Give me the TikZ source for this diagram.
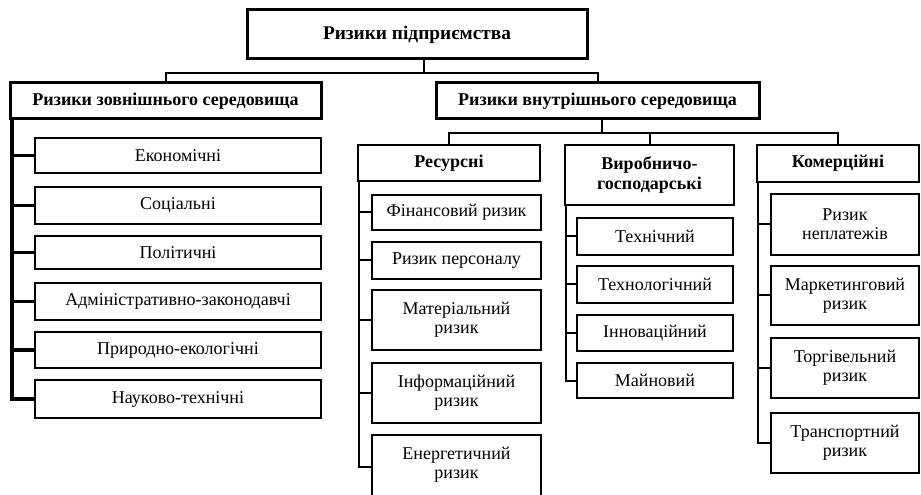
\documentclass[tikz,border=0pt]{standalone}
\usepackage{fontspec}
\setmainfont{Liberation Serif}
\usetikzlibrary{fit}
\tikzset{
  box/.style={draw, line width=1.1pt, inner sep=0pt},
  hbox/.style={box, line width=2.25pt},
  lbl/.style={align=center, inner sep=0pt, font=\fontsize{13.5}{14.5}\selectfont},
  blbl/.style={lbl, font=\fontsize{13.5}{14.5}\selectfont\bfseries},
  tlbl/.style={lbl, font=\fontsize{14.5}{15}\selectfont\bfseries},
  conn/.style={line width=1.5pt},
  tconn/.style={line width=2.6pt},
}
\newcommand\mybox[8]{\node[#6, fit={(#2,#3)(#4,#5)}] (#1) {};
  \node[#7] (#1-t) at (#1.center) {#8};}
\begin{document}
\begin{tikzpicture}[x=0.75pt,y=-0.75pt]
\useasboundingbox (0,0) rectangle (921,495);
% top levels
\mybox{top}{247}{10}{587}{59}{hbox}{tlbl}{Ризики підприємства}
\mybox{ext}{10}{83}{321}{119}{hbox}{blbl}{Ризики зовнішнього середовища}
\mybox{int}{436}{83}{759}{119}{hbox}{blbl}{Ризики внутрішнього середовища}
% external children
\mybox{e1}{35}{138}{321}{173}{box}{lbl}{Економічні}
\mybox{e2}{35}{187}{321}{224}{box}{lbl}{Соціальні}
\mybox{e3}{35}{236}{321}{269}{box}{lbl}{Політичні}
\mybox{e4}{35}{283}{321}{320}{box}{lbl}{Адміністративно-законодавчі}
\mybox{e5}{35}{332}{321}{368}{box}{lbl}{Природно-екологічні}
\mybox{e6}{35}{380}{321}{418}{box}{lbl}{Науково-технічні}
% internal groups
\mybox{r}{358}{145}{540}{181}{box}{blbl}{Ресурсні}
\mybox{v}{565}{145}{734}{205}{box}{blbl}{Виробничо-\\господарські}
\mybox{k}{757}{145}{919}{182}{box}{blbl}{Комерційні}
% resource children
\mybox{r1}{372}{195}{541}{230}{box}{lbl}{Фінансовий ризик}
\mybox{r2}{372}{242}{541}{279}{box}{lbl}{Ризик персоналу}
\mybox{r3}{372}{290}{541}{350}{box}{lbl}{Матеріальний\\ризик}
\mybox{r4}{372}{363}{541}{423}{box}{lbl}{Інформаційний\\ризик}
\node[box, fit={(372,435)(541,500)}] (r5) {};
\node[lbl] (r5-t) at (456.5,465) {Енергетичний\\ризик};
% production children
\mybox{v1}{577}{218}{733}{255}{box}{lbl}{Технічний}
\mybox{v2}{577}{266}{733}{303}{box}{lbl}{Технологічний}
\mybox{v3}{577}{315}{733}{351}{box}{lbl}{Інноваційний}
\mybox{v4}{577}{363}{733}{398}{box}{lbl}{Майновий}
% commercial children
\mybox{k1}{771}{194}{919}{255}{box}{lbl}{Ризик\\неплатежів}
\mybox{k2}{771}{266}{919}{325}{box}{lbl}{Маркетинговий\\ризик}
\mybox{k3}{771}{338}{919}{398}{box}{lbl}{Торгівельний\\ризик}
\mybox{k4}{771}{413}{919}{473}{box}{lbl}{Транспортний\\ризик}
% connectors level 1
\coordinate (b1) at (424,73);
\draw[conn] (top.south -| b1) -- (b1);
\draw[conn] (ext.north) |- (b1) -| (int.north);
% connectors level 2
\coordinate (b2) at (602,133);
\draw[conn] (int.south -| b2) -- (b2);
\draw[conn] (r.north) |- (k.north |- b2) -- (k.north);
\draw[conn] (v.north) -- (v.north |- b2);
% external trunk
\coordinate (te) at (12,119);
\draw[tconn] (te) -- (te |- e6.west) -- (e6.west);
\foreach \c in {e1,e2,e3,e4,e5}{\draw[tconn] (te |- \c.west) -- (\c.west);}
% resource trunk
\coordinate (tr) at (359,181);
\coordinate (r5s) at (372,467);
\draw[conn] (tr) -- (tr |- r5s) -- (r5s);
\foreach \c in {r1,r2,r3,r4}{\draw[conn] (tr |- \c.west) -- (\c.west);}
% production trunk
\coordinate (tv) at (566,205);
\draw[conn] (tv) -- (tv |- v4.west) -- (v4.west);
\foreach \c in {v1,v2,v3}{\draw[conn] (tv |- \c.west) -- (\c.west);}
% commercial trunk
\coordinate (tk) at (758,182);
\draw[conn] (tk) -- (tk |- k4.west) -- (k4.west);
\foreach \c in {k1,k2,k3}{\draw[conn] (tk |- \c.west) -- (\c.west);}
\end{tikzpicture}
\end{document}
